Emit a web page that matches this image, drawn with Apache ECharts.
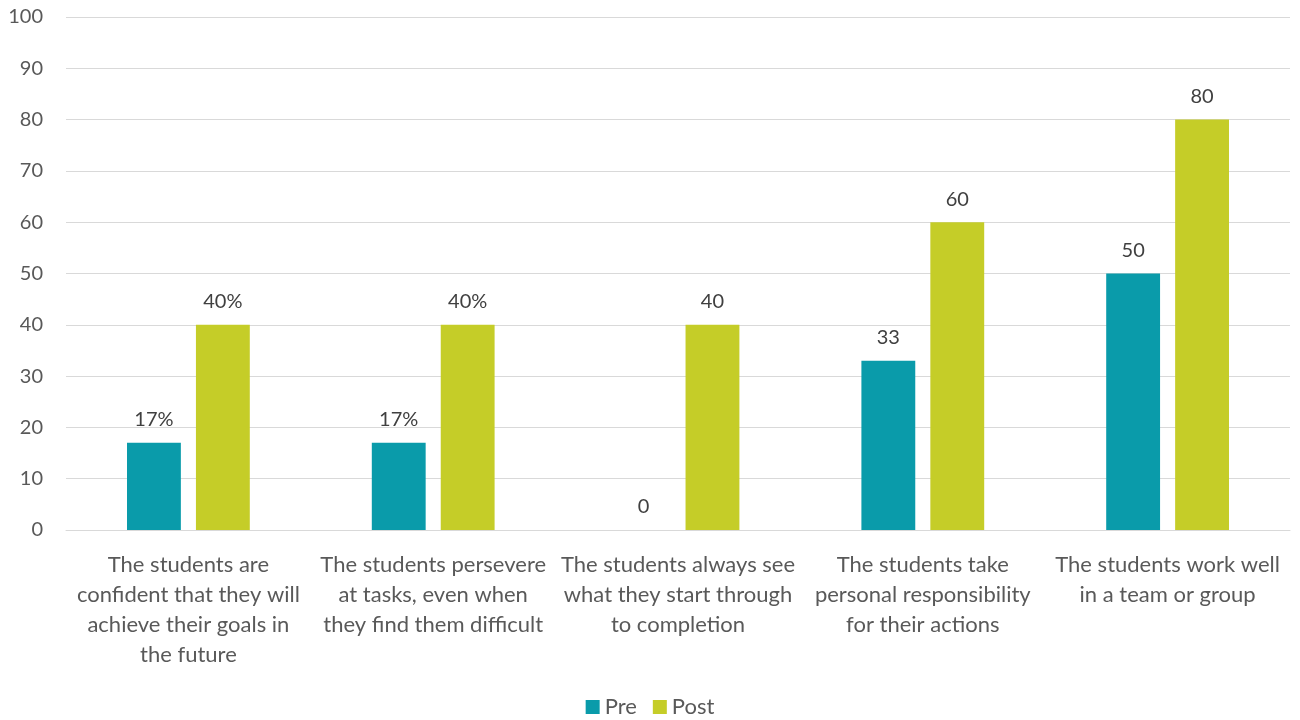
<!DOCTYPE html>
<html>
<head>
<meta charset="utf-8">
<script src="https://cdn.jsdelivr.net/npm/echarts@6/dist/echarts.min.js"></script>
<style>
  html, body { margin: 0; padding: 0; background: #fff; }
  #chart { width: 1300px; height: 720px; }
</style>
</head>
<body>
<div id="chart"></div>
<script>
// Statement categories (line breaks as shown under the axis)
const categories = [
  'The students are\nconfident that they will\nachieve their goals in\nthe future',
  'The students persevere\nat tasks, even when\nthey find them difficult',
  'The students always see\nwhat they start through\nto completion',
  'The students take\npersonal responsibility\nfor their actions',
  'The students work well\nin a team or group'
];
const preValues = [17, 17, 0, 33, 50];
const postValues = [40, 40, 40, 60, 80];
// Value label suffixes per category
const labelSuffix = ['%', '%', '', '', ''];
const yTicks = { min: 0, max: 100, interval: 10 };

const FONT = 'Lato';
const chart = echarts.init(document.getElementById('chart'));

const labelStyle = {
  show: true,
  position: 'top',
  distance: 13,
  fontFamily: FONT,
  fontSize: 20,
  color: '#404040',
  formatter: p => p.value + labelSuffix[p.dataIndex]
};

chart.setOption({
  animation: false,
  textStyle: { fontFamily: FONT },
  grid: { left: 66, right: 10, top: 17, bottom: 190, containLabel: false },
  legend: {
    bottom: -3,
    left: 'center',
    itemWidth: 14,
    itemHeight: 14,
    itemGap: 16,
    icon: 'rect',
    textStyle: { fontFamily: FONT, fontSize: 22, color: '#595959' },
    data: ['Pre', 'Post']
  },
  xAxis: {
    type: 'category',
    data: categories,
    axisLine: { show: true, lineStyle: { color: '#d9d9d9', width: 1 } },
    axisTick: { show: false },
    axisLabel: {
      interval: 0,
      margin: 20,
      fontFamily: FONT,
      fontSize: 22,
      lineHeight: 30,
      color: '#595959',
      align: 'center'
    }
  },
  yAxis: {
    type: 'value',
    min: yTicks.min,
    max: yTicks.max,
    interval: yTicks.interval,
    axisLine: { show: false },
    axisTick: { show: false },
    axisLabel: { margin: 23, fontFamily: FONT, fontSize: 20, color: '#595959' },
    splitLine: { lineStyle: { color: '#d9d9d9', width: 1 } }
  },
  series: [
    {
      name: 'Pre',
      type: 'bar',
      data: preValues,
      barWidth: '22%',
      barGap: '28%',
      itemStyle: { color: '#0a9baa' },
      label: labelStyle
    },
    {
      name: 'Post',
      type: 'bar',
      data: postValues,
      barWidth: '22%',
      itemStyle: { color: '#c5cd28' },
      label: labelStyle
    }
  ]
});
</script>
</body>
</html>
